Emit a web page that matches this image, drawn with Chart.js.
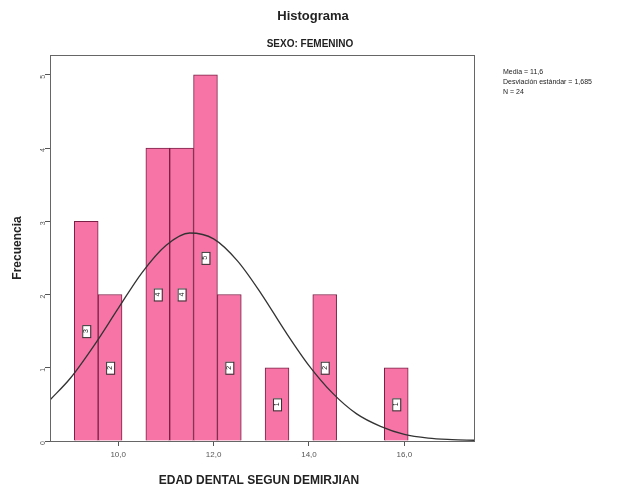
<!DOCTYPE html>
<html>
<head>
<meta charset="utf-8">
<script src="https://cdn.jsdelivr.net/npm/chart.js@4/dist/chart.umd.min.js"></script>
<style>
  body { margin: 0; background: #fff; }
  #wrap { width: 622px; height: 490px; }
</style>
</head>
<body>
<div id="wrap"><canvas id="hist"></canvas></div>
<script>
// centros de cada intervalo (ancho 0,5) y frecuencias
const binCenters = [9.33, 9.83, 10.33, 10.83, 11.33, 11.83, 12.33, 12.83, 13.33, 13.83, 14.33, 14.83, 15.33, 15.83];
const counts     = [3, 2, 0, 4, 4, 5, 2, 0, 1, 0, 2, 0, 0, 1];

// curva normal
const curveX = [8.57, 9.0, 9.5, 10.0, 10.5, 11.0, 11.5, 12.0, 12.5, 13.0, 13.5, 14.0, 14.5, 15.0, 15.5, 16.0, 16.5, 17.0, 17.46];
const curveY = [0.56, 0.86, 1.31, 1.81, 2.30, 2.67, 2.84, 2.76, 2.46, 2.01, 1.50, 1.03, 0.65, 0.37, 0.20, 0.09, 0.04, 0.02, 0.01];

const xTicks = [10, 12, 14, 16];
const yTicks = [0, 1, 2, 3, 4, 5];
const statsLines = ['Media = 11,6', 'Desviación estándar = 1,685', 'N = 24'];

const fmt = v => v.toFixed(1).replace('.', ',');

// textos, marco y etiquetas de las barras
const extras = {
  id: 'extras',
  afterDatasetsDraw(chart) {
    const { ctx, chartArea: a } = chart;
    // etiquetas dentro de las barras
    const meta = chart.getDatasetMeta(1);
    ctx.save();
    meta.data.forEach((bar, i) => {
      if (!counts[i]) return;
      const cy = chart.scales.y.getPixelForValue(counts[i] / 2);
      ctx.fillStyle = '#fff';
      ctx.strokeStyle = '#333';
      ctx.lineWidth = 1;
      ctx.fillRect(bar.x - 4, cy - 6, 8, 12);
      ctx.strokeRect(bar.x - 4 + 0.5, cy - 6 + 0.5, 8, 12);
      ctx.save();
      ctx.translate(bar.x, cy);
      ctx.rotate(-Math.PI / 2);
      ctx.fillStyle = '#222';
      ctx.font = '7px Arial';
      ctx.textAlign = 'center';
      ctx.textBaseline = 'middle';
      ctx.fillText(String(counts[i]), 0, 0);
      ctx.restore();
    });
    // marco
    ctx.strokeStyle = '#666';
    ctx.lineWidth = 1;
    ctx.strokeRect(a.left + 0.5, a.top + 0.5, a.right - a.left, a.bottom - a.top);
    ctx.restore();
  },
  afterDraw(chart) {
    const { ctx } = chart;
    ctx.save();
    ctx.fillStyle = '#222';
    ctx.textAlign = 'center';
    ctx.textBaseline = 'middle';
    ctx.font = 'bold 13px Arial';
    ctx.fillText('Histograma', 313, 16);
    ctx.font = 'bold 10px Arial';
    ctx.fillText('SEXO: FEMENINO', 310, 44);
    ctx.font = 'bold 12px Arial';
    ctx.fillText('EDAD DENTAL SEGUN DEMIRJIAN', 259, 481);
    ctx.save();
    ctx.translate(18, 248);
    ctx.rotate(-Math.PI / 2);
    ctx.fillText('Frecuencia', 0, 0);
    ctx.restore();
    ctx.font = '7px Arial';
    ctx.textAlign = 'left';
    statsLines.forEach((t, i) => ctx.fillText(t, 503, 72 + i * 10));
    ctx.restore();
  }
};

new Chart(document.getElementById('hist'), {
  data: {
    datasets: [
      {
        type: 'line',
        data: curveX.map((x, i) => ({ x: x, y: curveY[i] })),
        borderColor: '#333',
        borderWidth: 1.3,
        pointRadius: 0,
        cubicInterpolationMode: 'monotone',
        fill: false,
        order: 0
      },
      {
        type: 'bar',
        data: binCenters.map((x, i) => ({ x: x, y: counts[i] })),
        backgroundColor: '#f774a6',
        borderColor: '#7a2046',
        borderWidth: 1,
        barPercentage: 1,
        categoryPercentage: 1,
        order: 1
      }
    ]
  },
  options: {
    responsive: true,
    maintainAspectRatio: false,
    animation: false,
    layout: { padding: { top: 55, right: 148, left: 0, bottom: 0 } },
    plugins: { legend: { display: false }, tooltip: { enabled: false } },
    scales: {
      x: {
        type: 'linear',
        offset: false,
        min: 8.57,
        max: 17.46,
        afterBuildTicks: s => { s.ticks = xTicks.map(v => ({ value: v })); },
        afterFit: s => { s.height = 49; },
        grid: { offset: false, drawOnChartArea: false, drawTicks: true, tickLength: 5, color: '#555' },
        border: { display: false },
        ticks: {
          callback: v => fmt(v),
          font: { family: 'Arial', size: 8 },
          color: '#555',
          maxRotation: 0,
          padding: 4
        }
      },
      y: {
        min: 0,
        max: 5.27,
        afterBuildTicks: s => { s.ticks = yTicks.map(v => ({ value: v })); },
        afterFit: s => { s.width = 50; },
        grid: { drawOnChartArea: false, drawTicks: true, tickLength: 5, color: '#555' },
        border: { display: false },
        ticks: {
          font: { family: 'Arial', size: 7 },
          color: '#555',
          minRotation: 90,
          maxRotation: 90,
          padding: 2
        }
      }
    }
  },
  plugins: [extras]
});
</script>
</body>
</html>
